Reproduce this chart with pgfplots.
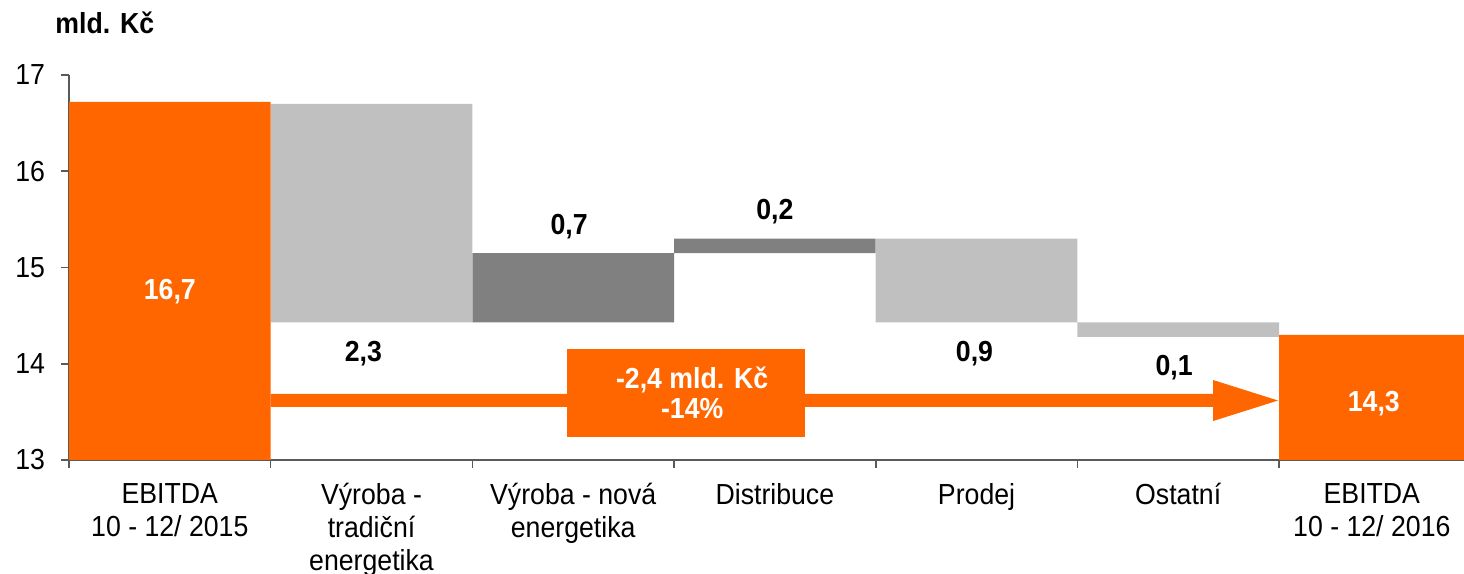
\documentclass[border=0pt]{standalone}
\usepackage{pgfplots}
\pgfplotsset{compat=1.18}
\usepackage{fontspec}
\setmainfont{Liberation Sans}[FakeStretch=0.92]
\definecolor{eorange}{HTML}{FF6600}
\definecolor{lgray}{HTML}{C0C0C0}
\definecolor{dgray}{HTML}{808080}
\definecolor{axgray}{HTML}{595959}
\newcommand{\fs}{\fontsize{14.5bp}{16.5bp}\selectfont}
\pgfplotsset{frame/.style={scale only axis, width=697.5bp, height=192.5bp,
  xmin=0, xmax=6.917, ymin=13, ymax=17}}
\begin{document}
\fs
\begin{tikzpicture}
\begin{axis}[
  frame,
  axis lines=left, axis line style={-, axgray, line width=0.8bp},
  ybar stacked, bar width=1, bar shift=0pt,
  tick align=outside,
  ytick={13,14,15,16,17},
  major tick length=4bp,
  tick style={axgray, line width=0.8bp},
  /pgf/number format/assume math mode=true,
  ticklabel style={font=\fs},
  yticklabel style={xshift=-3bp},
  xtick={0,1,2,3,4,5,6},
  xticklabels={,,,,,,},
  extra x ticks={0.5,1.5,2.5,3.5,4.5,5.5,6.46},
  extra x tick labels={{EBITDA\\10 - 12/ 2015},{Výroba -\\tradiční\\energetika},{Výroba - nová\\energetika},{Distribuce},{Prodej},{Ostatní},{EBITDA\\10 - 12/ 2016}},
  extra x tick style={major tick length=0pt, xticklabel style={align=center, yshift=-6.5bp}},
]
% invisible base
\addplot[draw=none, fill=none] coordinates {(0.5,0) (1.5,14.43) (2.5,14.43) (3.5,15.15) (4.5,14.43) (5.5,14.28) (6.5,0)};
% orange
\addplot[draw=none, fill=eorange] coordinates {(0.5,16.72) (1.5,0) (2.5,0) (3.5,0) (4.5,0) (5.5,0) (6.5,14.30)};
% light gray
\addplot[draw=none, fill=lgray] coordinates {(0.5,0) (1.5,2.27) (2.5,0) (3.5,0) (4.5,0.87) (5.5,0.15) (6.5,0)};
% dark gray
\addplot[draw=none, fill=dgray] coordinates {(0.5,0) (1.5,0) (2.5,0.72) (3.5,0.15) (4.5,0) (5.5,0) (6.5,0)};
\end{axis}
\begin{axis}[frame, hide axis, clip=false]
% arrow
\addplot[fill=eorange, draw=none] coordinates {(1.0,13.686) (5.673,13.686) (5.673,13.831) (5.995,13.618) (5.673,13.405) (5.673,13.551) (1.0,13.551)} -- cycle;
% box
\addplot[fill=eorange, draw=none] coordinates {(2.469,14.15) (3.650,14.15) (3.650,13.24) (2.469,13.24)} -- cycle;
\coordinate (B) at (axis cs:3.09,13.70);
\coordinate (L1) at (axis cs:0.5,14.75);
\coordinate (L2) at (axis cs:1.46,14.11);
\coordinate (L3) at (axis cs:2.48,15.42);
\coordinate (L4) at (axis cs:3.50,15.58);
\coordinate (L5) at (axis cs:4.49,14.11);
\coordinate (L6) at (axis cs:5.48,13.96);
\coordinate (L7) at (axis cs:6.47,13.59);
\end{axis}
\node[align=center, text=white, font=\bfseries, inner sep=0pt] at (B) {-2,4 mld. Kč\\[-1.5bp]-14\%};
\node[text=white, font=\bfseries] at (L1) {16,7};
\node[font=\bfseries] at (L2) {2,3};
\node[font=\bfseries] at (L3) {0,7};
\node[font=\bfseries] at (L4) {0,2};
\node[font=\bfseries] at (L5) {0,9};
\node[font=\bfseries] at (L6) {0,1};
\node[text=white, font=\bfseries] at (L7) {14,3};
\node[anchor=base west, inner sep=0pt, font=\bfseries] at ([xshift=-7bp,yshift=21bp]current axis.north west) {mld. Kč};
\pgfresetboundingbox
\path (-34.5bp,-57bp) rectangle (697.5bp,230bp);
\end{tikzpicture}
\end{document}
